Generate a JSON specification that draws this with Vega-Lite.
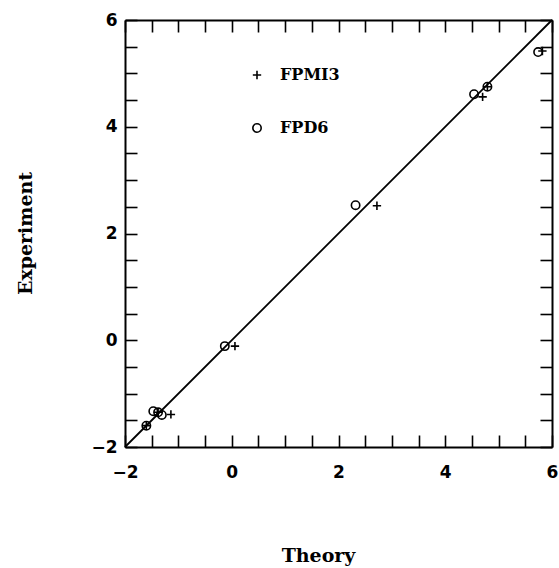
{
  "$schema": "https://vega.github.io/schema/vega-lite/v6.json",
  "width": 427,
  "height": 427,
  "autosize": {"type": "none"},
  "padding": {"left": 125, "top": 20, "right": 7, "bottom": 121},
  "background": "white",
  "config": {
    "view": {"stroke": null},
    "axis": {
      "grid": false,
      "domainColor": "black",
      "domainWidth": 2,
      "tickColor": "black",
      "tickWidth": 1.6,
      "tickSize": -12,
      "labelFont": "DejaVu Sans",
      "labelFontWeight": "bold",
      "labelFontSize": 17,
      "labelColor": "black",
      "labelFlush": false,
      "labelOverlap": false,
      "format": "d",
      "titleFont": "DejaVu Serif",
      "titleFontWeight": "bold",
      "titleFontSize": 19,
      "titleColor": "black"
    }
  },
  "datasets": {
    "diag": [{"x": -2, "y": -2}, {"x": 6, "y": 6}],
    "points": [
      {"series": "FPMI3", "x": -1.6, "y": -1.6},
      {"series": "FPMI3", "x": -1.38, "y": -1.35},
      {"series": "FPMI3", "x": -1.14, "y": -1.39},
      {"series": "FPMI3", "x": 0.06, "y": -0.11},
      {"series": "FPMI3", "x": 2.72, "y": 2.52},
      {"series": "FPMI3", "x": 4.7, "y": 4.56},
      {"series": "FPMI3", "x": 4.79, "y": 4.75},
      {"series": "FPMI3", "x": 5.82, "y": 5.42},
      {"series": "FPD6", "x": -1.6, "y": -1.6},
      {"series": "FPD6", "x": -1.47, "y": -1.33},
      {"series": "FPD6", "x": -1.38, "y": -1.35},
      {"series": "FPD6", "x": -1.31, "y": -1.4},
      {"series": "FPD6", "x": -0.13, "y": -0.11},
      {"series": "FPD6", "x": 2.32, "y": 2.53},
      {"series": "FPD6", "x": 4.54, "y": 4.61},
      {"series": "FPD6", "x": 4.79, "y": 4.75},
      {"series": "FPD6", "x": 5.74, "y": 5.4}
    ]
  },
  "layer": [
    {
      "data": {"name": "diag"},
      "mark": {"type": "line", "color": "black", "strokeWidth": 1.8},
      "encoding": {
        "x": {
          "field": "x", "type": "quantitative",
          "scale": {"domain": [-2, 6], "nice": false, "zero": false},
          "axis": {
            "orient": "bottom",
            "values": [-2, -1.5, -1, -0.5, 0, 0.5, 1, 1.5, 2, 2.5, 3, 3.5, 4, 4.5, 5, 5.5, 6],
            "labelExpr": "datum.value % 2 === 0 ? datum.label : ''",
            "labelPadding": 29,
            "title": "Theory",
            "titleX": 193,
            "titleY": 108,
            "titleAlign": "center",
            "titleBaseline": "middle"
          }
        },
        "y": {
          "field": "y", "type": "quantitative",
          "scale": {"domain": [-2, 6], "nice": false, "zero": false},
          "axis": {
            "orient": "left",
            "values": [-2, -1.5, -1, -0.5, 0, 0.5, 1, 1.5, 2, 2.5, 3, 3.5, 4, 4.5, 5, 5.5, 6],
            "labelExpr": "datum.value % 2 === 0 ? datum.label : ''",
            "labelPadding": 20,
            "title": "Experiment",
            "titleX": -100,
            "titleY": 213,
            "titleAngle": -90,
            "titleAlign": "center",
            "titleBaseline": "middle"
          }
        }
      }
    },
    {
      "data": {"name": "points"},
      "mark": {"type": "point", "filled": false, "color": "black", "strokeWidth": 1.6, "size": 70, "opacity": 1},
      "encoding": {
        "x": {
          "field": "x", "type": "quantitative",
          "scale": {"domain": [-2, 6], "nice": false, "zero": false},
          "axis": {
            "orient": "top",
            "values": [-2, -1.5, -1, -0.5, 0, 0.5, 1, 1.5, 2, 2.5, 3, 3.5, 4, 4.5, 5, 5.5, 6],
            "labels": false,
            "title": null
          }
        },
        "y": {
          "field": "y", "type": "quantitative",
          "scale": {"domain": [-2, 6], "nice": false, "zero": false},
          "axis": {
            "orient": "right",
            "values": [-2, -1.5, -1, -0.5, 0, 0.5, 1, 1.5, 2, 2.5, 3, 3.5, 4, 4.5, 5, 5.5, 6],
            "labels": false,
            "title": null
          }
        },
        "shape": {
          "field": "series", "type": "nominal",
          "scale": {"domain": ["FPMI3", "FPD6"], "range": ["M-1,0H1M0,-1V1", "circle"]},
          "legend": {
            "orient": "none",
            "legendX": 124,
            "legendY": 47,
            "title": null,
            "padding": 0,
            "labelFont": "DejaVu Serif",
            "labelFontWeight": "bold",
            "labelFontSize": 16,
            "labelColor": "black",
            "labelOffset": 15,
            "rowPadding": 37,
            "symbolSize": 70,
            "symbolStrokeColor": "black",
            "symbolStrokeWidth": 1.6,
            "symbolFillColor": "transparent"
          }
        }
      }
    }
  ],
  "resolve": {"axis": {"x": "independent", "y": "independent"}}
}
